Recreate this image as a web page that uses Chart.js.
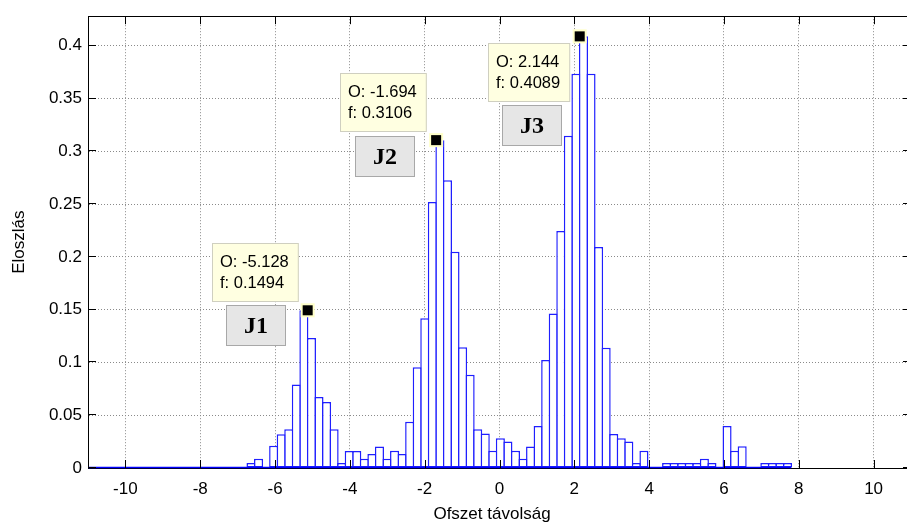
<!DOCTYPE html>
<html>
<head>
<meta charset="utf-8">
<script src="https://cdn.jsdelivr.net/npm/chart.js@4.4.0/dist/chart.umd.min.js"></script>
<style>
  html, body { margin: 0; padding: 0; background: #fff; overflow: hidden; }
  #wrap { position: relative; width: 911px; height: 524px; }
</style>
</head>
<body>
<div id="wrap"><canvas id="offset-histogram"></canvas></div>
<script>
// bin centres of the histogram (bin width 0.202)
const binCenters = [
  -10.885, -10.683, -10.481, -10.279, -10.077, -9.875, -9.673, -9.471, -9.269, -9.067,
  -8.865, -8.663, -8.461, -8.259, -8.057, -7.855, -7.653, -7.451, -7.249, -7.047,
  -6.845, -6.643, -6.441, -6.239, -6.037, -5.835, -5.633, -5.431, -5.229, -5.027,
  -4.825, -4.623, -4.421, -4.219, -4.017, -3.815, -3.613, -3.411, -3.209, -3.007,
  -2.805, -2.603, -2.401, -2.199, -1.997, -1.795, -1.593, -1.391, -1.189, -0.987,
  -0.785, -0.583, -0.381, -0.179, 0.023, 0.225, 0.427, 0.629, 0.831, 1.033,
  1.235, 1.437, 1.639, 1.841, 2.043, 2.245, 2.447, 2.649, 2.851, 3.053,
  3.255, 3.457, 3.659, 3.861, 4.063, 4.265, 4.467, 4.669, 4.871, 5.073,
  5.275, 5.477, 5.679, 5.881, 6.083, 6.285, 6.487, 6.689, 6.891, 7.093,
  7.295, 7.497, 7.699
];
// relative frequency of each bin
const binValues = [
  0, 0, 0, 0, 0, 0, 0, 0, 0, 0,
  0, 0, 0, 0, 0, 0, 0, 0, 0, 0,
  0, 0.0047, 0.0088, 0, 0.021, 0.032, 0.0366, 0.0792, 0.1494, 0.1231,
  0.0673, 0.0626, 0.0366, 0.0047, 0.016, 0.016, 0.0088, 0.0132, 0.0204, 0.0088,
  0.0163, 0.0132, 0.0439, 0.0955, 0.1419, 0.2519, 0.3106, 0.2726, 0.2049, 0.1143,
  0.0883, 0.0367, 0.0326, 0.0163, 0.0282, 0.0251, 0.0163, 0.0088, 0.0204, 0.0398,
  0.1024, 0.1463, 0.2246, 0.3148, 0.3734, 0.4089, 0.3734, 0.2093, 0.114, 0.0323,
  0.0282, 0.0251, 0.0047, 0.0163, 0, 0, 0.0047, 0.0047, 0.0047, 0.0047,
  0.0047, 0.0088, 0.0047, 0, 0.0398, 0.0163, 0.0207, 0, 0, 0.0047,
  0.0047, 0.0047, 0.0047
];
const xTicks = [-10, -8, -6, -4, -2, 0, 2, 4, 6, 8, 10];
const yTicks = [0, 0.05, 0.1, 0.15, 0.2, 0.25, 0.3, 0.35, 0.4];

// data tips on the three peaks
const tipOffsets = [-5.128, -1.694, 2.144];
const tipValues = [0.1494, 0.3106, 0.4089];
const tipSides = ["above", "above", "below"];
// peak names and where their boxes sit (data units)
const peakNames = ["J1", "J2", "J3"];
const peakNameX = [-6.5, -3.05, 0.86];
const peakNameY = [0.1358, 0.2952, 0.3247];

const FONT = "'Liberation Sans', Arial, sans-serif";
Chart.defaults.font.family = FONT;
Chart.defaults.font.size = 17;
Chart.defaults.color = "#000";

const matlabAxes = {
  id: "matlabAxes",
  afterDatasetsDraw(chart) {
    const { ctx, chartArea: a, scales: { x, y } } = chart;
    ctx.save();

    // blue baseline of the bars, over the whole binned range
    const half = (binCenters[1] - binCenters[0]) / 2;
    const yb = Math.round(y.getPixelForValue(0)) - 0.5;
    ctx.strokeStyle = "#0000ff";
    ctx.lineWidth = 1.5;
    ctx.beginPath();
    ctx.moveTo(x.getPixelForValue(binCenters[0] - half), yb);
    ctx.lineTo(x.getPixelForValue(binCenters[binCenters.length - 1] + half), yb);
    ctx.stroke();

    // top edge of the box
    ctx.strokeStyle = "#000";
    ctx.lineWidth = 1;
    ctx.beginPath();
    ctx.moveTo(a.left, Math.round(a.top) + 0.5);
    ctx.lineTo(a.right, Math.round(a.top) + 0.5);
    ctx.stroke();

    // inward tick marks on all four sides
    const tl = 8;
    ctx.beginPath();
    xTicks.forEach(v => {
      const px = Math.round(x.getPixelForValue(v)) + 0.5;
      ctx.moveTo(px, a.bottom); ctx.lineTo(px, a.bottom - tl);
      ctx.moveTo(px, a.top); ctx.lineTo(px, a.top + tl);
    });
    yTicks.forEach(v => {
      const py = Math.round(y.getPixelForValue(v)) - 0.5;
      ctx.moveTo(a.left, py); ctx.lineTo(a.left + tl, py);
      ctx.moveTo(a.right, py); ctx.lineTo(a.right - tl, py);
    });
    ctx.stroke();

    // data tips
    ctx.font = "16.5px " + FONT;
    tipOffsets.forEach((o, i) => {
      const mx = x.getPixelForValue(o);
      const my = y.getPixelForValue(tipValues[i]);
      const lines = ["O: " + o, "f: " + tipValues[i]];
      const w = Math.max(...lines.map(t => ctx.measureText(t).width)) + 18;
      const h = 59;
      const left = Math.round(mx - 9 - w);
      const top = Math.round(tipSides[i] === "below" ? my + 7 : my - 8 - h);
      ctx.fillStyle = "#ffffe1";
      ctx.fillRect(left, top, w, h);
      ctx.strokeStyle = "#cfcfc0";
      ctx.strokeRect(left + 0.5, top + 0.5, w - 1, h - 1);
      ctx.fillStyle = "#000";
      ctx.textAlign = "left";
      ctx.textBaseline = "middle";
      ctx.fillText(lines[0], left + 8, top + 19.5);
      ctx.fillText(lines[1], left + 8, top + 40.5);
      ctx.fillStyle = "#ffffc8";
      ctx.fillRect(mx - 7, my - 7, 14, 14);
      ctx.fillStyle = "#000";
      ctx.fillRect(mx - 5, my - 5, 10, 10);
    });

    // peak name boxes
    ctx.font = "bold 24px 'Liberation Serif', 'Times New Roman', serif";
    ctx.textAlign = "center";
    ctx.textBaseline = "middle";
    peakNames.forEach((n, i) => {
      const cx = Math.round(x.getPixelForValue(peakNameX[i]));
      const cy = Math.round(y.getPixelForValue(peakNameY[i]));
      ctx.fillStyle = "#e6e6e6";
      ctx.fillRect(cx - 30, cy - 20, 60, 41);
      ctx.strokeStyle = "#a8a8a8";
      ctx.strokeRect(cx - 29.5, cy - 19.5, 59, 40);
      ctx.fillStyle = "#000";
      ctx.fillText(n, cx, cy + 2);
    });

    ctx.restore();
  },
  afterDraw(chart) {
    const { ctx, chartArea: a } = chart;
    ctx.save();
    ctx.font = "17px " + FONT;
    ctx.fillStyle = "#000";
    ctx.textAlign = "center";
    ctx.textBaseline = "middle";
    ctx.fillText("Ofszet távolság", 492, 514);
    ctx.translate(19, (a.top + a.bottom) / 2);
    ctx.rotate(-Math.PI / 2);
    ctx.fillText("Eloszlás", 0, 0);
    ctx.restore();
  }
};

const ctx = document.getElementById("offset-histogram").getContext("2d");
new Chart(ctx, {
  type: "bar",
  data: {
    datasets: [{
      data: binCenters.map((c, i) => ({ x: c, y: binValues[i] })),
      backgroundColor: "#ffffff",
      borderColor: "#1f1fff",
      borderWidth: 1.5,
      borderSkipped: false,
      barPercentage: 1.2,
      categoryPercentage: 1
    }]
  },
  options: {
    responsive: true,
    maintainAspectRatio: false,
    animation: false,
    layout: { padding: { top: 12, right: 0, left: 0, bottom: 0 } },
    plugins: { legend: { display: false }, tooltip: { enabled: false } },
    scales: {
      x: {
        type: "linear",
        min: -11,
        max: 11,
        offset: false,
        afterBuildTicks: s => { s.ticks = xTicks.map(v => ({ value: v })); },
        afterFit: s => { s.height = 56; },
        ticks: { padding: 11, maxRotation: 0, autoSkip: false },
        grid: { color: "#8a8a8a", lineWidth: 1, drawTicks: false, offset: false },
        border: { display: true, color: "#000", width: 1, dash: [1, 2] }
      },
      y: {
        min: 0,
        max: 0.428,
        afterBuildTicks: s => { s.ticks = yTicks.map(v => ({ value: v })); },
        afterFit: s => { s.width = 88; },
        ticks: { padding: 6, callback: v => String(+v.toFixed(2)) },
        grid: { color: "#8a8a8a", lineWidth: 1, drawTicks: false },
        border: { display: true, color: "#000", width: 1, dash: [1, 2] }
      }
    }
  },
  plugins: [matlabAxes]
});
</script>
</body>
</html>
